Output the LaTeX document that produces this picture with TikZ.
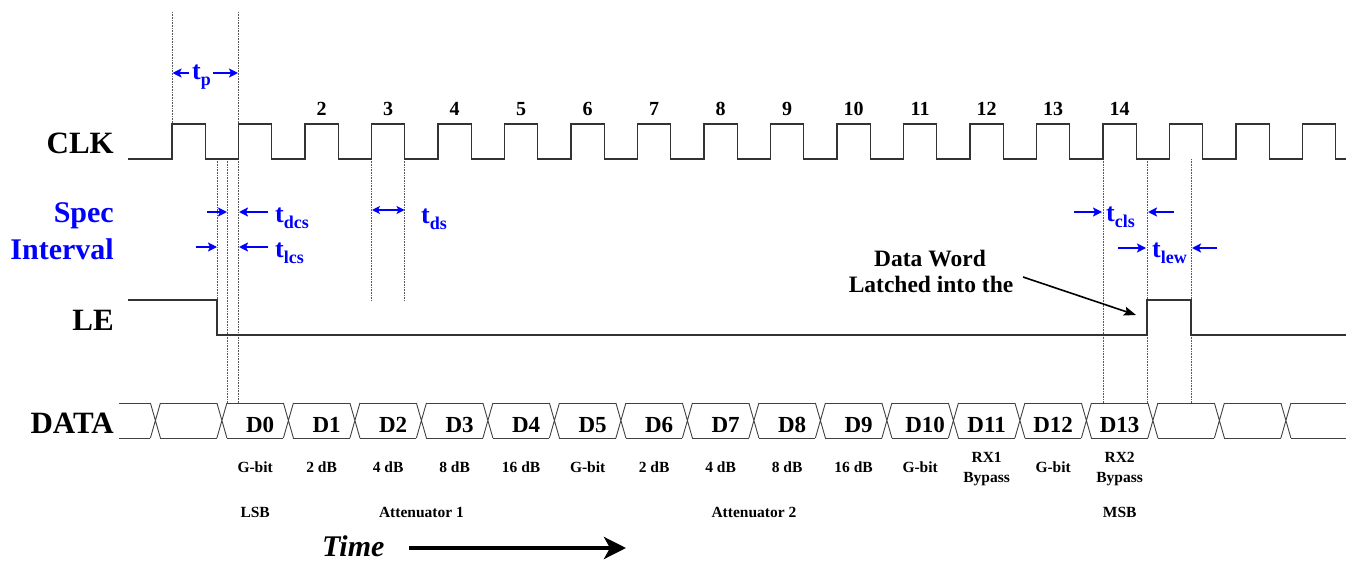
\documentclass[tikz,border=0pt]{standalone}
\usepackage{fontspec}
\setmainfont{Liberation Serif}
\usetikzlibrary{arrows.meta}
\newcommand\mytsub[1]{{\fontsize{26}{26}\selectfont t}\raisebox{-6pt}{\fontsize{18}{18}\selectfont #1}}
\begin{document}
\begin{tikzpicture}[x=1pt,y=-1pt,
  sig/.style={line width=1.4pt, black!80},
  guide/.style={densely dotted, line width=0.6pt, black!65},
  dimarrow/.style={blue, line width=2pt, -{Stealth[length=9pt,width=9pt,inset=2pt]}},
  dimboth/.style={blue, line width=2pt, {Stealth[length=8pt,width=8pt,inset=2pt]}-{Stealth[length=8pt,width=8pt,inset=2pt]}},
  rowlab/.style={anchor=base east, inner sep=0pt, font=\fontsize{31}{31}\selectfont\bfseries},
  speclab/.style={anchor=base east, inner sep=0pt, text=blue, font=\fontsize{30}{30}\selectfont\bfseries},
  tlab/.style={anchor=base west, inner sep=0pt, text=blue, font=\bfseries},
  numlab/.style={anchor=base, inner sep=0pt, font=\fontsize{20}{20}\selectfont\bfseries},
  dlab/.style={anchor=base, inner sep=0pt, font=\fontsize{23}{23}\selectfont\bfseries},
  desc/.style={anchor=base, inner sep=0pt, font=\fontsize{15.5}{15.5}\selectfont\bfseries},
  note/.style={anchor=base, inner sep=0pt, font=\fontsize{23.5}{23.5}\selectfont\bfseries},
  timelab/.style={anchor=base west, inner sep=0pt, font=\fontsize{30}{30}\selectfont\bfseries\itshape}
]
\useasboundingbox (0,0) rectangle (1346,561);

% guide lines
\draw[guide] (172,12) -- (172,124);
\draw[guide] (238.5,12) -- (238.5,403);
\draw[guide] (217,159) -- (217,300);
\draw[guide] (227,159) -- (227,403);
\draw[guide] (371.5,159) -- (371.5,300);
\draw[guide] (404.75,159) -- (404.75,300);
\draw[guide] (1103,159) -- (1103,403);
\draw[guide] (1147,159) -- (1147,403);
\draw[guide] (1191,159) -- (1191,403);

% row labels
\node[rowlab] (clk) at (114,154) {CLK};
\node[speclab] (spec) at (114,223) {Spec};
\node[speclab] (interval) at (114,260) {Interval};
\node[rowlab] (le) at (114,330) {LE};
\node[rowlab] (data) at (114,433) {DATA};

% clock
\draw[sig] (128,159) foreach \k in {0,...,17}{
  -- ({172+66.5*\k},159) -- ({172+66.5*\k},124) -- ({205.25+66.5*\k},124) -- ({205.25+66.5*\k},159)
} -- (1346,159);
\foreach \k in {2,...,14}{
  \node[numlab] (n\k) at ({188.6+66.5*\k},116) {\k};
}

% LE
\draw[sig] (128,300) -- (217,300) -- (217,335) -- (1147,335) -- (1147,300) -- (1191,300) -- (1191,335) -- (1346,335);

% DATA bus
\draw[line width=0.9pt, black!75] (119,403) -- (150.4,403) (119,438) -- (150.4,438);
\foreach \j in {0,...,17}{
  \pgfmathsetmacro\c{155.4+66.5*\j}
  \draw[line width=0.9pt, black!75] (\c-5,403) -- (\c+5,438) (\c-5,438) -- (\c+5,403);
}
\foreach \j in {0,...,16}{
  \pgfmathsetmacro\a{160.4+66.5*\j}
  \pgfmathsetmacro\b{216.9+66.5*\j}
  \draw[line width=0.9pt, black!75] (\a,403) -- (\b,403) (\a,438) -- (\b,438);
}
\draw[line width=0.9pt, black!75] (1291,403) -- (1346,403) (1291,438) -- (1346,438);

\foreach \k in {0,...,10}{
  \node[dlab] (d\k) at ({260.15+66.5*\k},432) {D\k};
}
\foreach \k in {11,12,13}{
  \node[dlab] (d\k) at ({255.15+66.5*\k},432) {D\k};
}

% descriptions
\node[desc] (g0) at (255.15,472) {G-bit};
\node[desc] (a1) at (321.65,472) {2 dB};
\node[desc] (a2) at (388.15,472) {4 dB};
\node[desc] (a3) at (454.65,472) {8 dB};
\node[desc] (a4) at (521.15,472) {16 dB};
\node[desc] (g5) at (587.65,472) {G-bit};
\node[desc] (b6) at (654.15,472) {2 dB};
\node[desc] (b7) at (720.65,472) {4 dB};
\node[desc] (b8) at (787.15,472) {8 dB};
\node[desc] (b9) at (853.65,472) {16 dB};
\node[desc] (g10) at (920.15,472) {G-bit};
\node[desc] (rx1a) at (986.65,462) {RX1};
\node[desc] (rx1b) at (986.65,482) {Bypass};
\node[desc] (g12) at (1053.15,472) {G-bit};
\node[desc] (rx2a) at (1119.65,462) {RX2};
\node[desc] (rx2b) at (1119.65,482) {Bypass};

\node[desc] (lsb) at (255.15,517) {LSB};
\node[desc] (att1) at (421.4,517) {Attenuator 1};
\node[desc] (att2) at (753.9,517) {Attenuator 2};
\node[desc] (msb) at (1119.65,517) {MSB};

% timing labels
\node[tlab] (tp) at (192,80) {\mytsub{p}};
\coordinate (tpl) at (189,73); \coordinate (tpl2) at (172.5,73);
\coordinate (tpr) at (213,73); \coordinate (tpr2) at (238,73);
\draw[dimarrow] (tpl) -- (tpl2);
\draw[dimarrow] (tpr) -- (tpr2);

\node[tlab] (tdcs) at (275,223) {\mytsub{dcs}};
\coordinate (dcs1) at (207,212); \coordinate (dcs2) at (227,212);
\coordinate (dcs3) at (268,212); \coordinate (dcs4) at (239,212);
\draw[dimarrow] (dcs1) -- (dcs2);
\draw[dimarrow] (dcs3) -- (dcs4);

\node[tlab] (tlcs) at (275,258) {\mytsub{lcs}};
\coordinate (lcs1) at (196,247); \coordinate (lcs2) at (217,247);
\coordinate (lcs3) at (268,247); \coordinate (lcs4) at (239,247);
\draw[dimarrow] (lcs1) -- (lcs2);
\draw[dimarrow] (lcs3) -- (lcs4);

\node[tlab] (tds) at (421,224) {\mytsub{ds}};
\coordinate (ds1) at (372,210); \coordinate (ds2) at (404.5,210);
\draw[dimboth] (ds1) -- (ds2);

\node[tlab] (tcls) at (1106,222) {\mytsub{cls}};
\coordinate (cls1) at (1074,212); \coordinate (cls2) at (1102,212);
\coordinate (cls3) at (1174,212); \coordinate (cls4) at (1148,212);
\draw[dimarrow] (cls1) -- (cls2);
\draw[dimarrow] (cls3) -- (cls4);

\node[tlab] (tlew) at (1152,258) {\mytsub{lew}};
\coordinate (lew1) at (1118,248); \coordinate (lew2) at (1146,248);
\coordinate (lew3) at (1217,248); \coordinate (lew4) at (1192,248);
\draw[dimarrow] (lew1) -- (lew2);
\draw[dimarrow] (lew3) -- (lew4);

% note
\node[note] (dw1) at (930,267) {Data Word};
\node[note] (dw2) at (931,293) {Latched into the};
\coordinate (dwa) at (1023,277);
\coordinate (dwb) at (1136,315);
\draw[line width=1.6pt, -{Stealth[length=12pt,width=9pt,inset=2pt]}] (dwa) -- (dwb);

% time
\node[timelab] (time) at (322,556) {Time};
\coordinate (ta) at (409,548);
\coordinate (tb) at (626,548);
\draw[line width=4pt, -{Stealth[length=22pt,width=22pt,inset=6pt]}] (ta) -- (tb);
\end{tikzpicture}
\end{document}
